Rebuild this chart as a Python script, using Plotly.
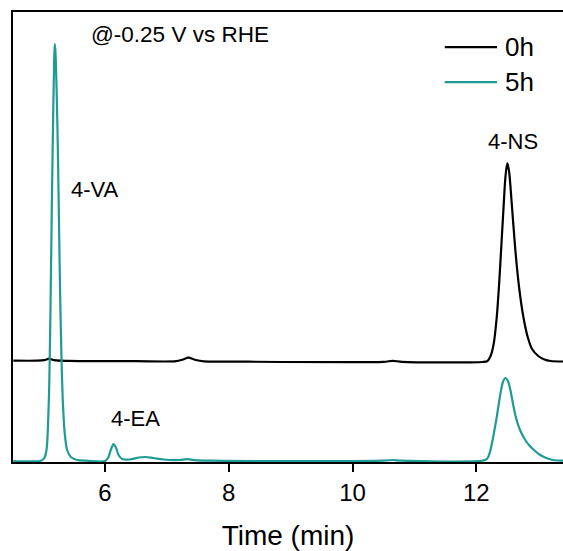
import plotly.graph_objects as go

# ---- data ----
time_0h = [4.52, 4.9, 5.02, 5.10, 5.18, 5.4, 6.5, 7.15, 7.25, 7.35, 7.45, 7.6, 8.0,
           10.5, 10.65, 10.8, 12.10, 12.18, 12.23, 12.28, 12.33, 12.37, 12.40, 12.44,
           12.47, 12.50, 12.53, 12.57, 12.63, 12.69, 12.76, 12.83, 12.90, 13.0, 13.1,
           13.2, 13.4]
signal_0h = [100.3, 100.3, 100.8, 102.3, 100.8, 100.1, 99.8, 99.8, 101.3, 103.3, 101.3, 99.6, 99.4,
             99.2, 100.2, 99.2, 99, 100, 105, 117, 144, 179, 211, 254,
             284, 298, 289, 259, 211, 174, 144, 124, 112, 105, 101.5,
             100, 99.5]

time_5h = [4.52, 4.95, 5.00, 5.03, 5.06, 5.08, 5.10, 5.12, 5.14, 5.16, 5.18, 5.19, 5.20,
           5.22, 5.24, 5.26, 5.28, 5.30, 5.32, 5.35, 5.39, 5.45, 5.55, 5.7, 6.0,
           6.05, 6.10, 6.14, 6.18, 6.22, 6.28, 6.40, 6.55, 6.65, 6.78, 6.95, 7.2,
           7.33, 7.45, 7.7, 10.5, 10.65, 10.8, 12.10, 12.17, 12.21, 12.25, 12.29,
           12.33, 12.38, 12.43, 12.47, 12.51, 12.55, 12.59, 12.63, 12.67, 12.72,
           12.78, 12.85, 12.93, 13.02, 13.12, 13.22, 13.32, 13.4]
signal_5h = [0, 0, 1.5, 4, 13, 35, 75, 150, 245, 330, 400, 417, 410,
             370, 310, 230, 155, 99, 60, 28, 11, 4, 1, 0.3, 0,
             3, 12, 17, 13, 6, 2, 1.5, 3.5, 4, 3, 1.5, 1,
             1.8, 0.8, 0.3, 0.3, 1, 0.3, 0.3, 2, 7, 17, 30,
             44, 64, 79, 83, 80, 71, 58, 46, 37, 29,
             22, 16, 11, 6.5, 3.2, 1.3, 0.5, 0.3]

series_names = ["0h", "5h"]
series_colors = ["#000000", "#1f9b95"]

peak_labels = ["4-VA", "4-EA", "4-NS"]
peak_label_time = [5.84, 6.5, 12.6]
peak_label_level = [272, 43, 320]

x_ticks = [6, 8, 10, 12]

FONT = "Arial, Liberation Sans, sans-serif"

fig = go.Figure()
fig.add_trace(go.Scatter(x=time_0h, y=signal_0h, mode="lines", name=series_names[0],
                         line=dict(color=series_colors[0], width=2.2, shape="spline", smoothing=0.8),
                         showlegend=False))
fig.add_trace(go.Scatter(x=time_5h, y=signal_5h, mode="lines", name=series_names[1],
                         line=dict(color=series_colors[1], width=2.2, shape="spline", smoothing=0.9),
                         showlegend=False))

annotations = []
for lab, t, v in zip(peak_labels, peak_label_time, peak_label_level):
    annotations.append(dict(x=t, y=v, xref="x", yref="y", text=lab, showarrow=False,
                            font=dict(family=FONT, size=22, color="black"),
                            xanchor="center", yanchor="middle"))
annotations.append(dict(x=0.303, y=0.950, xref="paper", yref="paper", text="@-0.25 V vs RHE",
                        showarrow=False, font=dict(family=FONT, size=22.5, color="black"),
                        xanchor="center", yanchor="middle"))

# manual legend
legend_y = [0.922, 0.844]
shapes = []
for name, col, ly in zip(series_names, series_colors, legend_y):
    shapes.append(dict(type="line", xref="paper", yref="paper", x0=0.785, x1=0.880, y0=ly, y1=ly,
                       line=dict(color=col, width=2.2)))
    annotations.append(dict(x=0.891, y=ly, xref="paper", yref="paper", text=name, showarrow=False,
                            font=dict(family=FONT, size=26, color="black"),
                            xanchor="left", yanchor="middle"))

fig.update_layout(
    width=563, height=551,
    margin=dict(l=13, r=0, t=12, b=89),
    paper_bgcolor="white", plot_bgcolor="white",
    annotations=annotations, shapes=shapes,
    showlegend=False,
    xaxis=dict(range=[4.515, 13.40], tickvals=x_ticks, ticks="outside", ticklen=8, tickwidth=1.5,
               tickcolor="black", showline=True, linecolor="black", linewidth=1.8, mirror=True,
               showgrid=False, zeroline=False, layer="below traces",
               tickfont=dict(family=FONT, size=24, color="black"),
               title=dict(text="Time (min)", font=dict(family=FONT, size=28, color="black"), standoff=22)),
    yaxis=dict(range=[-1, 449], showticklabels=False, ticks="", showline=True, linecolor="black",
               linewidth=1.8, mirror=False, showgrid=False, zeroline=False, layer="below traces"),
)

fig.write_html("out.html")
